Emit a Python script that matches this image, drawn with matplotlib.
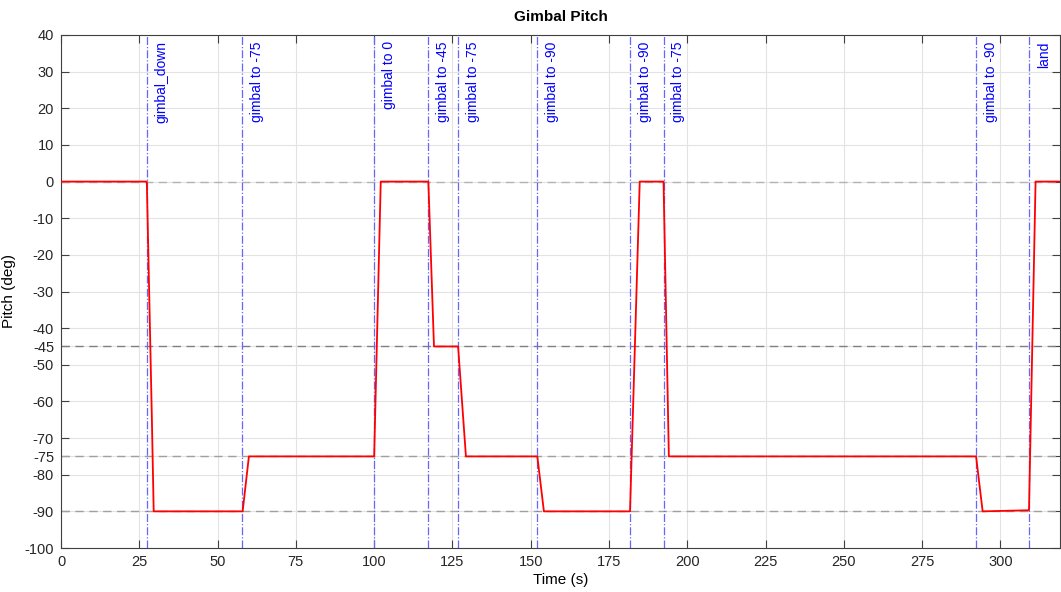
import matplotlib.pyplot as plt

plt.rcParams['font.family'] = ['Liberation Sans', 'DejaVu Sans']
plt.rcParams['axes.unicode_minus'] = False

# pitch trace (time s, pitch deg)
time_s = [0.0, 27.4, 29.0, 29.6, 58.0, 60.0, 100.0, 102.1, 117.3, 119.1,
          126.8, 129.3, 152.1, 154.2, 181.7, 184.8, 192.4, 194.1, 292.2,
          294.3, 309.1, 311.2, 320.0]
pitch_deg = [0.0, 0.0, -64.0, -90.0, -90.0, -75.0, -75.0, 0.0, 0.0, -45.0,
             -45.0, -75.0, -75.0, -90.0, -90.0, 0.0, 0.0, -75.0, -75.0,
             -90.0, -89.7, 0.0, 0.0]

# events
event_times = [27.4, 57.9, 100.0, 117.3, 126.8, 152.1, 181.7, 192.4, 292.2, 309.2]
event_labels = ['gimbal_down', 'gimbal to -75', 'gimbal to 0', 'gimbal to -45',
                'gimbal to -75', 'gimbal to -90', 'gimbal to -90', 'gimbal to -75',
                'gimbal to -90', 'land']

ref_levels = [0, -45, -75, -90]
ref_colors = ['#b3b3b3', '#808080', '#a0a0a0', '#a0a0a0']

y_ticks = [-100, -90, -80, -75, -70, -60, -50, -45, -40, -30, -20, -10, 0, 10, 20, 30, 40]
x_ticks = list(range(0, 325, 25))

fig = plt.figure(figsize=(10.61, 5.92), dpi=100)
ax = fig.add_axes([61 / 1061, 44 / 592, 999 / 1061, 513 / 592])

axis_color = '#404040'
for level, color in zip(ref_levels, ref_colors):
    ax.axhline(level, color=color, linestyle=(0, (6, 4)), linewidth=1.0, zorder=2)

for t, label in zip(event_times, event_labels):
    ax.axvline(t, color='#6666ff', linestyle='-.', linewidth=0.9, zorder=2)
    ax.text(t + 2.4, 38.3, label, rotation=90, color='blue', fontsize=10,
            ha='left', va='top')

ax.plot(time_s, pitch_deg, color='red', linewidth=1.3, zorder=3)

ax.set_xlim(0, 319)
ax.set_ylim(-100, 40)
ax.set_xticks(x_ticks)
ax.set_yticks(y_ticks)
ax.grid(True, color='#e3e3e3', linewidth=0.8, zorder=0)
ax.set_axisbelow(True)
ax.tick_params(direction='in', length=6, width=0.8, colors=axis_color,
               labelsize=10.5, top=True, right=True, labelcolor='#262626', pad=5)
for spine in ax.spines.values():
    spine.set_color(axis_color)
    spine.set_linewidth(0.8)

ax.set_title('Gimbal Pitch', fontsize=11, fontweight='bold', pad=10)
ax.set_xlabel('Time (s)', fontsize=11, labelpad=3)
ax.set_ylabel('Pitch (deg)', fontsize=11)
ax.yaxis.set_label_coords(-0.045, 0.5)

fig.savefig('out.png', dpi=100)
